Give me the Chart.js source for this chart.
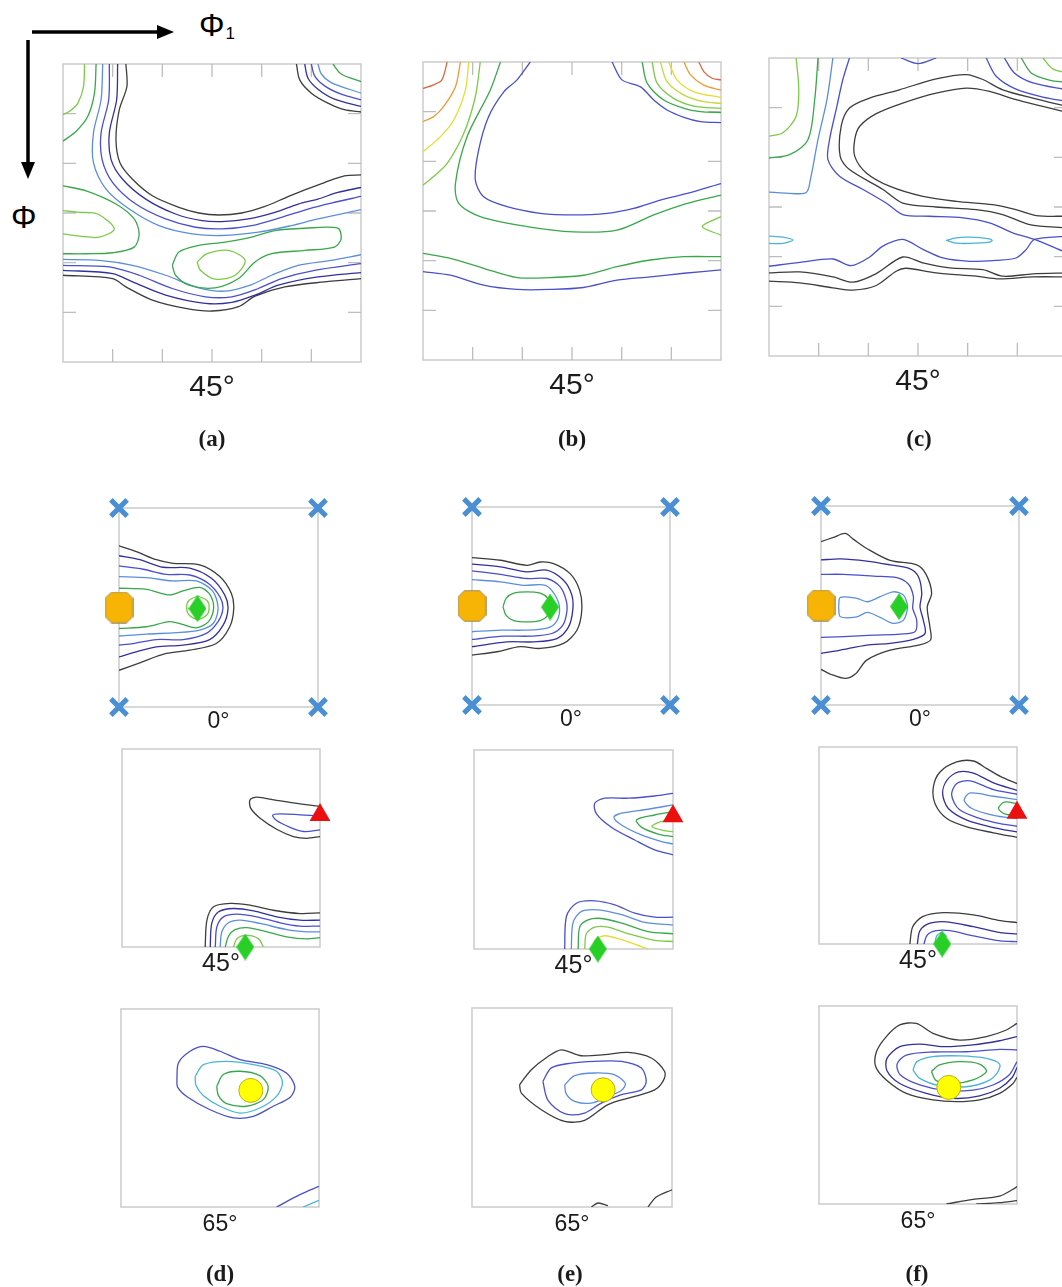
<!DOCTYPE html>
<html lang="en">
<head>
<meta charset="UTF-8">
<title>ODF sections</title>
<script src="https://cdn.jsdelivr.net/npm/chart.js"></script>
<style>
  html, body { margin: 0; padding: 0; background: #fff; }
  body { width: 1062px; height: 1287px; position: relative; overflow: hidden;
         font-family: "Liberation Sans", Arial, sans-serif; color: #1b1b1b; }
  canvas.sec { position: absolute; }
  .lbl { position: absolute; transform: translate(-50%, -50%); white-space: nowrap; line-height: 1; color: #1b1b1b; }
  .tag { font-family: "Liberation Serif", "Times New Roman", serif; font-weight: bold; font-size: 23px; }
  .phi { position: absolute; font-size: 32px; line-height: 32px; color: #000; }
</style>
</head>
<body>
<svg width="200" height="200" style="position:absolute;left:0;top:0">
  <line x1="32" y1="32" x2="160" y2="32" stroke="#000" stroke-width="3.5"/>
  <polygon points="157,25 174,32 157,39" fill="#000"/>
  <line x1="28" y1="40" x2="28" y2="165" stroke="#000" stroke-width="3.5"/>
  <polygon points="21,162 28,179 35,162" fill="#000"/>
</svg>
<div class="phi" style="left:199px;top:9px">Φ<span style="font-size:17px;position:relative;top:3px;margin-left:1px">1</span></div>
<div class="phi" style="left:11px;top:201px">Φ</div>

<script>
// contour colours, lowest level first
const C = {
  k: '#3d3d3d', db: '#33309c', b: '#4a4fcc', lb: '#5b8fdc', c: '#4ab4d8',
  g: '#38a84a', lg: '#7cca48', yg: '#c4d83c', y: '#e6dc32', o: '#ee9a38', r: '#d5683e'
};

const phiTicks = [15, 30, 45, 60, 75];
const topAxisLabel = '45°';
const phi2Labels = ['0°', '45°', '65°'];
const panelTags = ['(a)', '(b)', '(c)', '(d)', '(e)', '(f)'];

// ideal orientations (phi1, PHI)
const cubePts = [[0, 0], [90, 0], [0, 90], [90, 90]];
const gossPts = [[0, 45]];
const brassPts0 = [[35.5, 45.5]];
const brassPts45 = [[56, 90]];
const copperPts = [[90, 30]];
const sPts = [[59, 37]];

// iso-intensity lines: [level, x0,y0, x1,y1, ...], trailing 1 = closed loop
const secA = [
  ['k',  [19,0, 19.3,6.8, 17,13.8, 16,22.8, 17.2,29.8, 21,34.8, 27,39.8, 35,43.3, 41,45, 47,45.6, 54,45, 61,43, 67,40.5, 73,38, 79,35.8, 85,33.8, 90,33.5]],
  ['db', [16.5,0, 16.2,10.8, 14,20.8, 14.5,28.8, 18,34.8, 25,40.8, 34,45.3, 42,47.3, 48,47.6, 56,46.8, 64,44.8, 71,42.3, 77,40.8, 83,38.8, 90,37.3]],
  ['b',  [14,0, 13.8,10.8, 11.5,20.8, 11.8,28.8, 15,35.8, 22,42.3, 31,46.8, 40,49.3, 48,49.8, 57,48.8, 66,46.3, 74,43.8, 81,42, 90,40]],
  ['lb', [12,0, 11.5,10.8, 9.2,20.8, 9.2,29.8, 13,37.8, 20,43.8, 29,48.8, 39,51.3, 48,51.8, 59,50.8, 69,48.8, 77,46.8, 90,44]],
  ['lg', [6.5,0, 6.2,6.8, 4.5,11.8, 2,14.3, 0,15.3]],
  ['g',  [10,0, 9.5,8.8, 7.5,15.8, 4,20.3, 0,23.3]],
  ['lg', [0,44.3, 5,44.8, 10.5,45.3, 15.5,49.8, 11,52.3, 5,52, 0,51.3]],
  ['g',  [0,36.8, 7,38.3, 16,42.3, 21.5,46.8, 23,51.3, 21.5,55.3, 15,57, 7,57.3, 0,57.3]],
  ['g',  [33,60.8, 35,56.8, 41,54.8, 49,53.8, 57,52.3, 64,50.3, 73,49.6, 83,49.6, 84,52.8, 82,55.3, 73,56.3, 63,57.3, 58,59.8, 53,64.8, 46,67.6, 38,66.8, 34,63.8], 1],
  ['lg', [40.5,59.8, 43.5,57.3, 50,56.3, 55,59.3, 52,63.8, 46,65, 41.5,62.3], 1],
  ['lb', [0,59, 11,59.3, 21,60.8, 31,63.8, 41,67.6, 49,68.6, 57,66.6, 63,63.8, 71,60.8, 81,59.3, 90,57.6]],
  ['b',  [0,60.8, 14,61.3, 23,63.8, 33,67.8, 43,70.3, 51,70.3, 59,67.8, 66,64.8, 76,62.3, 90,60.3]],
  ['db', [0,62.3, 15,63.3, 21,65.8, 31,69.8, 43,72.3, 51,72, 58,69.8, 65,66.8, 77,64.3, 90,63]],
  ['k',  [0,63.8, 15,64.8, 19,67.3, 27,71.3, 37,73.8, 45,74.6, 53,73.3, 58,70.1, 67,67.3, 79,65.8, 90,64.8]],
  ['k',  [70.5,0, 71.5,4.8, 75,8.8, 80,11.8, 85,13.8, 90,14.5]],
  ['db', [73,0, 74,4.3, 77,7.6, 82,10.6, 90,12.8]],
  ['b',  [75,0, 76,3.6, 79,6.6, 84,9.1, 90,10.8]],
  ['lb', [77,0, 78,3, 81,5.6, 90,8.8]],
  ['g',  [81.5,0, 84,3, 90,5.3]]
];

const secB = [
  ['r',  [7.3,0, 5.7,5.4, 3.2,6.9, 0,8]],
  ['o',  [11.3,0, 9.8,7.5, 6.2,13.5, 3.2,16.5, 0,18]],
  ['y',  [13.8,0, 12.8,8.5, 9.3,17.5, 5.2,22.6, 0,27.1]],
  ['lg', [17.3,0, 15.8,10.5, 12.3,21.6, 7.3,30.6, 3.2,34.6, 0,37.2]],
  ['g',  [23.4,0, 20.3,8.5, 13.3,22.6, 9.8,36.7, 10.8,42.7, 17.3,46.7, 31.4,49.7, 45.5,51.3, 58.6,50.8, 69.7,46.2, 79.8,42.7, 90,40.2]],
  ['b',  [32.4,0, 28.4,5.4, 24.4,9, 19.8,16.5, 16.8,26.6, 15.8,35.6, 18.3,40.7, 25.4,43.7, 35.4,45.7, 45.5,46.2, 55.6,45.7, 63.6,44.2, 71.7,41.7, 79.8,39.7, 90,36.7]],
  ['b',  [57.1,0, 60.1,5.4, 65.7,7.5, 69.7,11.5, 73.7,14.5, 78.8,16.7, 83.8,18, 90,18.3]],
  ['g',  [66.2,0, 67.7,6.4, 72.7,11.5, 78.8,14, 83.8,15, 90,15.3]],
  ['lg', [69.2,0, 70.7,6.4, 75.7,11, 81.8,13.3, 90,14]],
  ['yg', [71.7,0, 73.7,5.9, 78.8,10, 84.8,12, 90,12.5]],
  ['y',  [74.2,0, 76.7,5.4, 81.8,9, 90,10.7]],
  ['o',  [78.8,0, 80.8,3.9, 84.8,7, 90,8.5]],
  ['r',  [83.3,0, 84.8,2.9, 87.3,4.9, 90,5.4]],
  ['lg', [90,46.7, 84.3,49.7, 90,52.3]],
  ['g',  [0,57.8, 8.3,59.3, 18.3,62.3, 28.4,65.1, 38.5,65.1, 48.5,64.4, 58.6,61.8, 68.7,59.8, 78.8,58.8, 90,58.8]],
  ['b',  [0,63.3, 8.3,64.4, 18.3,67.4, 28.4,68.7, 38.5,68.7, 48.5,68.1, 58.6,65.9, 68.7,64.9, 78.8,63.8, 90,62.8]]
];

const secC = [
  ['lg', [8.2,0, 9,9.6, 8.2,17.6, 4.2,22.6, 0,23.6]],
  ['g',  [14.8,0, 13.8,12.6, 11.8,24.6, 6.2,29.2, 0,30.2]],
  ['lb', [19.3,0, 17.5,12.6, 14.8,24.6, 12.5,36.7, 11.1,40.7, 0,40.5]],
  ['b',  [24.3,0, 22.3,6.5, 20.5,14.6, 18.3,24.6, 17.8,30.7, 21.3,35.7, 28.4,39.7, 35.4,43.8, 40.4,47.3, 48.5,47.8, 58.6,48.3, 66.6,49.8, 73.6,52.8, 80.2,54.8, 90,58.9]],
  ['k',  [90,16.4, 82.7,14.6, 74.6,12.6, 66.6,10.1, 59.6,9.1, 50.5,10.6, 40.4,13.6, 32.4,16.8, 27.4,20.6, 25.9,24.6, 25.9,29.7, 29.4,34.7, 36.4,38.7, 46.5,41.8, 56.5,43.3, 67.6,44.3, 74.6,45.8, 80.7,47.6, 90,47.8]],
  ['k',  [90,14.6, 79.7,12.1, 70.6,9.6, 64.6,6.5, 59.6,5, 50.5,6.3, 39.4,9.6, 30.4,12.1, 24.3,15.1, 21.8,20.6, 21.5,29.7, 24.3,33.7, 34.4,39.7, 40.4,43.8, 50.5,45, 62.6,45.8, 70.6,47.3, 78.7,50.3, 90,51.3]],
  ['b',  [65.6,0, 68.6,5.5, 74.6,9.4, 82.7,11.8, 90,13.1]],
  ['b',  [71.1,0, 74.1,4.5, 79.7,7.5, 90,9.6]],
  ['g',  [76.2,0, 79.2,4.5, 84.7,6.7, 90,7.4]],
  ['lg', [82.7,0, 85.7,3.3, 90,4.5]],
  ['b',  [39.9,0, 45,1.7, 50.5,0]],
  ['c',  [0,53.8, 4.2,54.1, 7.2,55, 4.2,56, 0,56]],
  ['c',  [53.5,55.1, 56.5,54.3, 60.5,54.1, 66.6,54.6, 67.4,55.1, 66.6,55.6, 60.5,56, 56.5,55.9], 1],
  ['b',  [0,62.9, 9.3,61.7, 19.3,60.7, 24.8,62.7, 30.4,60.1, 34.4,56.8, 40.4,54.8, 46.5,57.8, 52.5,60.4, 60.6,61.4, 68.6,61.1, 74.6,60.4, 77.7,57.8, 80.2,54.8, 90,53.8]],
  ['k',  [0,64.9, 9.3,64.6, 19.3,66.1, 25.4,67.7, 32.4,65.1, 40.4,60.1, 46.5,61.9, 54.5,63.4, 64.6,63.9, 70.6,65.9, 79.7,65.2, 90,64.9]],
  ['k',  [0,67.4, 9.3,67.9, 19.3,69.4, 25.4,70.1, 32.4,68.7, 38.4,64.4, 41.4,63.5, 50.5,64.9, 62.6,65.9, 69.6,66.7, 79.7,66.1, 90,66.1]]
];

// phi2 = 0
const d0 = [
  ['k',  [0,17.1, 7.8,19.7, 16.9,23.4, 24.4,25, 36.5,25.7, 45.6,31, 50.8,38.6, 51.9,45.4, 50.1,53.7, 44,61.3, 32,64.3, 21.4,65.8, 9.4,70, 0,73.4]],
  ['db', [0,21.6, 9.4,23.4, 19.9,26.8, 32,27.2, 41.8,31.8, 47.8,39.3, 49.3,45.4, 47.1,53, 41,59.5, 29,62, 16.9,62.8, 7.8,65.1, 0,67.3]],
  ['b',  [0,26.2, 10.9,27.7, 21.4,30, 32,30.3, 40.3,34, 45.6,40.1, 47,45.4, 44.8,51.4, 39.5,56.7, 29,59.5, 16.9,59.5, 6.3,61.3, 0,62]],
  ['lb', [0,31, 12.4,31.5, 24.4,33, 35,33, 42.3,37.5, 44.8,45, 42.8,52, 36.5,55.2, 25.9,56.4, 12.4,57, 0,57.9]],
  ['g',  [0,36.3, 12.4,36.8, 22.9,39.3, 29,37.5, 36.5,35.9, 41,39, 42.8,45.4, 40.5,51.4, 35,54.2, 28.2,52.5, 22.9,51.4, 12.4,53.7, 0,54.5]],
  ['lg', [35.7,39.8, 39.8,41.8, 40.8,45, 39.8,48.3, 35.7,50.4, 31.6,48.3, 30.6,45, 31.6,41.8], 1]
];
const e0 = [
  ['k',  [0,23, 12.9,24.2, 25,26.5, 31,25, 37.1,25.7, 44.6,30.3, 48.9,37.8, 49.9,46.9, 47.7,56, 41.6,62, 31,64.3, 21.9,63.5, 11.3,65.8, 0,67.3]],
  ['db', [0,26, 12.9,27.2, 25,29.5, 34,28.7, 41.6,33.3, 45.4,40.1, 45.8,46.9, 43.9,54.5, 38.6,59.8, 28,61.3, 15.9,61.3, 0,63.5]],
  ['b',  [0,29, 12.9,30.6, 25,32.5, 34,32.5, 40.1,36.3, 42.8,42.4, 43.1,47.7, 41.3,53.7, 36.3,57.5, 26.5,58.7, 14.4,58.7, 0,60.2]],
  ['lb', [0,33, 12.9,34, 23.4,35.6, 33.3,35.6, 37.8,40.1, 39.8,46.1, 38.3,52.2, 33.7,55.2, 23.4,56, 12.9,56, 0,56.7]],
  ['g',  [14.1,45.4, 15.5,41.5, 19,39.2, 25,38.6, 31,39.2, 34.5,41.5, 35.9,45.4, 34.5,49.3, 31,51.6, 25,52.2, 19,51.6, 15.5,49.3], 1]
];
const f0 = [
  ['k',  [0,16.1, 5.7,14.2, 11,12.4, 14.8,15.1, 20.8,19.2, 31.4,24.6, 43.5,26.6, 47.7,30.8, 50.3,39.5, 48.3,45.6, 49.5,54.6, 49.8,60.6, 44.3,62.9, 31.4,65.2, 20.8,69.7, 15.6,76, 11,78, 4.2,76, 0,73.9]],
  ['db', [0,24.4, 8.8,23.9, 20.8,24.9, 31.4,26.6, 40.5,28.4, 44.3,32, 45.8,39.5, 45,45.6, 46.5,51.6, 47.3,57.6, 42,60.3, 31.4,62.1, 20.8,62.9, 8.8,65.2, 0,66.7]],
  ['b',  [0,30.9, 10.3,30.9, 23.9,31.7, 34.4,32.4, 39.7,35.3, 42,41, 41.7,46.3, 43.5,51.6, 42.7,56.9, 36,57.9, 23.9,58.4, 10.3,59.1, 0,59.4]],
  ['lb', [8,45.6, 8.8,41.3, 16.3,41.8, 21.1,43.3, 26.9,41, 32.9,38.8, 37.5,40.3, 39.3,45.6, 37.5,51.6, 32.9,53.1, 26.9,50.4, 21.1,48.1, 16.3,50.1, 8.8,50.1], 1]
];

// phi2 = 45
const d45 = [
  ['k',  [90,26.1, 80.9,24.9, 70.3,23.4, 61.3,21.9, 58.2,23.1, 58.5,26.9, 62.8,31.5, 70.3,36.5, 77.9,39.8, 84,40.6, 90,39.8]],
  ['b',  [90,30.4, 80.9,29.9, 71.9,29.5, 68.5,30.1, 70.3,32.5, 76.4,35.6, 82.5,37.5, 90,36.8]],
  ['k',  [37.8,90, 38.6,77.8, 41.6,71.7, 49.2,70.2, 58.2,71, 68.8,73.3, 80.9,74.8, 90,74.5]],
  ['db', [40.1,90, 40.8,79.3, 43.9,74, 50.7,72.5, 59.8,73.6, 70.3,76.3, 80.9,77.8, 90,77.8]],
  ['b',  [42.4,90, 43.1,80.9, 46.1,76.3, 52.2,75.1, 61.3,76.3, 71.9,79, 80.9,80.5, 90,80.5]],
  ['lb', [44.6,90, 45.4,83.1, 48.4,79, 53.7,77.8, 62.8,79.3, 74.9,82.1, 84,83.1, 90,83.1]],
  ['g',  [46.9,90, 48.4,85.1, 51.4,82.1, 56.7,81.2, 64.3,82.7, 74.9,85.4, 84,86.3, 90,85.7]],
  ['lg', [50.7,90, 52.2,86.2, 56.7,84.7, 62,86.2, 64.3,90]]
];
const e45 = [
  ['b',  [90,19.6, 81.7,20.8, 69.7,21.8, 59.1,21.8, 54.6,24.1, 55.4,28.9, 62.1,34.9, 72.7,40.7, 81.7,45.2, 90,47.4]],
  ['lb', [90,24.8, 78.7,26.8, 66.7,28.6, 63.3,30.4, 66.7,33.9, 75.7,38.4, 84.8,41.4, 90,42.5]],
  ['g',  [90,27.9, 81.7,29.4, 73.5,31.6, 75.7,34.9, 83.3,38, 90,39.2]],
  ['lg', [90,31.3, 83.3,32.8, 80.5,34.6, 85.5,36.4, 90,36.9]],
  ['b',  [41,90, 41.8,75.3, 46.3,69.3, 54.6,68.2, 63.7,70, 72.7,73.8, 81.7,75.6, 90,75.6]],
  ['lb', [44,90, 44.8,78, 48.6,73, 56.1,72.3, 66.7,74.5, 77.2,78, 90,79.2]],
  ['g',  [47.1,90, 47.8,80.1, 51.6,76.8, 57.6,76.2, 66.7,78.3, 78.7,82.1, 90,83.1]],
  ['lg', [50.1,90, 50.8,83.1, 54.6,80.1, 60.6,80.1, 69.7,83.1, 81.7,86.1, 90,86.6]],
  ['y',  [53.4,90, 54.6,86.1, 59.1,84, 66.7,85.8, 75.7,88.9, 78.7,90]]
];
const f45 = [
  ['k',  [90,16.7, 82.4,13.4, 76.3,9.9, 70.2,6.4, 62.6,6.8, 55,11.4, 52,18.2, 52.7,25.8, 58.1,32.7, 67.2,36.5, 79.3,39.2, 90,41.3]],
  ['db', [90,19.8, 79.3,16.4, 70.2,11.9, 63.4,11.4, 58.1,15.2, 56.2,21.3, 58.8,28.1, 67.2,33.4, 79.3,36.8, 90,38.8]],
  ['b',  [90,21.6, 79.3,19.5, 68.7,15.5, 62.6,16.7, 60.3,22, 63.8,28.6, 73.3,32.7, 82.4,35, 90,36.2]],
  ['lb', [90,24, 79.3,22.5, 68.7,21, 66,24.3, 69.5,28.1, 79.3,31.2, 90,32.7]],
  ['g',  [90,25.8, 84.2,25.2, 81.6,28.1, 84.7,30.7, 90,31.2]],
  ['k',  [41.3,90, 42.6,82.1, 47.1,77.5, 56.5,75.7, 70.2,76.7, 82.4,79.3, 90,80.2]],
  ['db', [44.7,90, 45.9,83.9, 50.5,80.5, 58.1,79.9, 70.2,82.1, 82.4,84.8, 90,85.4]],
  ['b',  [47.7,90, 49.2,85.9, 53.2,83.9, 59.6,83.9, 70.2,86.3, 82.4,88.6, 90,88.9]],
  ['c',  [52.7,90, 53.5,86.3, 55.8,84.8, 58.1,86.6]]
];

// phi2 = 65
const d65 = [
  ['b',  [25.4,32.1, 26.1,24.5, 31.4,19.2, 37.5,17, 45,19.2, 54.1,23, 66.2,25.3, 75.2,29.1, 79,35.2, 77,40, 69.2,44.2, 60.1,48.8, 51.1,49.5, 40.5,45.8, 30.2,40, 25.7,35.5], 1],
  ['c',  [33.7,30.6, 37.5,25.3, 48,23.8, 60.1,25.3, 70.7,28.3, 73.4,33.6, 70.7,39.7, 63.1,45, 54.1,47.3, 45,44.2, 37.5,39.4, 34.1,34.8], 1],
  ['g',  [43.5,35.2, 46.5,29.8, 54.1,28.3, 63.1,30.3, 66.9,35.2, 64.7,41.2, 57.1,44.2, 48,43, 44.3,39.4], 1],
  ['b',  [70.7,90, 81.3,84.4, 90,80.6]],
  ['c',  [82.8,90, 90,87]]
];
const e65 = [
  ['k',  [21.4,34.7, 26.7,27.9, 34.2,21.9, 40.2,18.9, 49.2,21.6, 59.7,21.1, 70.2,20.1, 80.7,22.6, 86.7,28.7, 85.9,33.2, 82.2,37, 73.2,40, 61.2,43.7, 50.7,50.8, 41.7,51.3, 31.2,46, 22.2,38.5], 1],
  ['b',  [31.9,33.2, 35.7,27.1, 44.7,24.9, 55.2,24.1, 67.2,24.1, 76.2,27.1, 78.4,33.2, 76.2,37, 67.2,39.2, 58.2,43, 50.7,47.5, 41.7,47.8, 34.2,41.8], 1],
  ['lb', [41.7,34.7, 46.2,30.6, 55.2,29.4, 64.2,30.2, 69,34.2, 67.2,37.3, 61.2,40, 53.7,43, 46.2,42.2, 42.4,38.8], 1],
  ['k',  [53.7,90, 56.7,88.2, 61.2,89.4]],
  ['k',  [79.2,90, 82.9,85.5, 90,82.2]]
];
const f65 = [
  ['k',  [90,7.9, 85.2,10.9, 76.1,13.9, 63.9,15.5, 51.8,12.4, 44.2,7.9, 36.7,8.6, 30.6,13.9, 26.1,20.8, 25.8,27.6, 30.6,33.6, 39.7,39.7, 51.8,42.7, 62.4,43.5, 73,42.7, 82.1,39.7, 88.2,35.2, 90,32.4]],
  ['db', [90,13.9, 82.1,15.8, 70,17.7, 56.4,18.5, 45.8,17.3, 36.7,18.5, 30.9,23.8, 30.9,29.4, 36.7,35.2, 48.8,39.7, 60.9,42, 73,40.9, 82.1,37.4, 87.9,32.4, 90,27.9]],
  ['b',  [90,20, 82.1,19.7, 67,20.8, 51.8,20.9, 39.7,22.3, 35.5,26.4, 37,31.4, 45.8,35.9, 57.9,38.5, 70,38.2, 79.1,35.9, 86.4,31.4, 90,25.3]],
  ['c',  [42.7,29.1, 44.5,25.3, 51.8,23, 63.9,22.7, 76.1,23.8, 82.1,26.4, 80.9,30.6, 76.1,34.4, 67,36.7, 54.8,36.2, 45.8,32.9], 1],
  ['g',  [51.1,29.8, 54.8,26.8, 63.9,25.3, 73,26.4, 76.1,29.8, 70,33.6, 60.9,35.2, 53.3,33.9], 1],
  ['k',  [57.9,90, 70,87.9, 82.1,86.4, 88.2,83.3, 90,82.1]],
  ['k',  [71.5,90, 82.1,89.4, 90,88.5]]
];

// custom point images: elongated diamond (Brass), cut-corner block (Goss)
function diamondImage(w, h, color) {
  const c = document.createElement('canvas');
  c.width = w; c.height = h;
  const g = c.getContext('2d');
  g.fillStyle = color;
  g.beginPath();
  g.moveTo(w / 2, 0); g.lineTo(w, h / 2); g.lineTo(w / 2, h); g.lineTo(0, h / 2);
  g.closePath(); g.fill();
  return c;
}
function octagonImage(w, h, cut, fill, stroke) {
  const c = document.createElement('canvas');
  c.width = w; c.height = h;
  const g = c.getContext('2d');
  const a = 0.75, r = w - 0.75, b = h - 0.75;
  g.beginPath();
  g.moveTo(a + cut, a); g.lineTo(r - cut, a); g.lineTo(r, a + cut); g.lineTo(r, b - cut);
  g.lineTo(r - cut, b); g.lineTo(a + cut, b); g.lineTo(a, b - cut); g.lineTo(a, a + cut);
  g.closePath();
  g.fillStyle = fill; g.fill();
  g.strokeStyle = stroke; g.lineWidth = 1; g.stroke();
  return c;
}
const diamond = diamondImage(18, 27, '#27cf27');
const octagon = octagonImage(29, 32, 6, '#f8b404', '#9c8a5c');

const markStyle = {
  cube:   { pointStyle: 'crossRot', pointRadius: 11.5, borderWidth: 5, borderColor: '#4a8fd4', backgroundColor: '#4a8fd4' },
  goss:   { pointStyle: octagon, pointRadius: 15, borderWidth: 0 },
  brass:  { pointStyle: diamond, pointRadius: 12, borderWidth: 0 },
  copper: { pointStyle: 'triangle', pointRadius: 12, borderWidth: 0, borderColor: '#ec0f0f', backgroundColor: '#ec0f0f' },
  s:      { pointStyle: 'circle', pointRadius: 12, borderWidth: 1, borderColor: '#b9ad1e', backgroundColor: '#ffff00' }
};

// frame rect = [left, top, width, height] of each plot area on the page
const panels = [
  { frame: [63, 64, 298, 298],  lines: secA, ticks: true, axis: topAxisLabel, size: 30, dy: 24, marks: [] },
  { frame: [423, 62, 298, 298], lines: secB, ticks: true, axis: topAxisLabel, size: 30, dy: 24, marks: [] },
  { frame: [769, 58, 298, 298], lines: secC, ticks: true, axis: topAxisLabel, size: 30, dy: 24, marks: [] },
  { frame: [119, 508, 199, 199], lines: d0, axis: phi2Labels[0], size: 23, dy: 13, marks: [['cube', cubePts], ['goss', gossPts], ['brass', brassPts0]] },
  { frame: [472, 507, 198, 198], lines: e0, axis: phi2Labels[0], size: 23, dy: 13, marks: [['cube', cubePts], ['goss', gossPts], ['brass', brassPts0]] },
  { frame: [821, 506, 198, 199], lines: f0, axis: phi2Labels[0], size: 23, dy: 13, marks: [['cube', cubePts], ['goss', gossPts], ['brass', brassPts0]] },
  { frame: [122, 749, 198, 198], lines: d45, axis: phi2Labels[1], size: 25, dy: 15, marks: [['copper', copperPts], ['brass', brassPts45]] },
  { frame: [474, 750, 199, 199], lines: e45, axis: phi2Labels[1], size: 25, dy: 15, marks: [['copper', copperPts], ['brass', brassPts45]] },
  { frame: [819, 747, 198, 197], lines: f45, axis: phi2Labels[1], size: 25, dy: 15, marks: [['copper', copperPts], ['brass', brassPts45]] },
  { frame: [121, 1009, 198, 198], lines: d65, axis: phi2Labels[2], size: 23, dy: 16, marks: [['s', sPts]] },
  { frame: [472, 1008, 200, 199], lines: e65, axis: phi2Labels[2], size: 23, dy: 16, marks: [['s', sPts]] },
  { frame: [819, 1006, 198, 198], lines: f65, axis: phi2Labels[2], size: 23, dy: 16, marks: [['s', sPts]] }
];
const tagPos = [[212, 438], [572, 438], [919, 438], [220, 1273], [570, 1273], [917, 1273]];

// light grey box with optional inward tick marks
const framePlugin = {
  id: 'frame',
  beforeDatasetsDraw(chart, args, opts) {
    const { ctx, chartArea: a, scales } = chart;
    ctx.save();
    ctx.strokeStyle = '#cbcbcb';
    ctx.lineWidth = 1.5;
    ctx.strokeRect(a.left, a.top, a.right - a.left, a.bottom - a.top);
    if (opts.ticks) {
      const L = 13;
      ctx.strokeStyle = '#bdbdbd';
      ctx.lineWidth = 1.3;
      ctx.beginPath();
      opts.ticks.forEach(v => {
        const x = scales.x.getPixelForValue(v);
        const y = scales.y.getPixelForValue(v);
        ctx.moveTo(x, a.bottom); ctx.lineTo(x, a.bottom - L);
        ctx.moveTo(x, a.top); ctx.lineTo(x, a.top + L);
        ctx.moveTo(a.left, y); ctx.lineTo(a.left + L, y);
        ctx.moveTo(a.right, y); ctx.lineTo(a.right - L, y);
      });
      ctx.stroke();
    }
    ctx.restore();
  }
};

function toPoints(flat, closed) {
  const pts = [];
  for (let i = 0; i < flat.length; i += 2) pts.push({ x: flat[i], y: flat[i + 1] });
  if (closed) pts.push({ x: flat[0], y: flat[1] });
  return pts;
}

function addLabel(text, cx, cy, cls, size) {
  const d = document.createElement('div');
  d.className = 'lbl ' + (cls || '');
  d.style.left = cx + 'px';
  d.style.top = cy + 'px';
  if (size) d.style.fontSize = size + 'px';
  d.textContent = text;
  document.body.appendChild(d);
}

const PAD = 22;
panels.forEach(p => {
  const [left, top, w, h] = p.frame;
  const cv = document.createElement('canvas');
  cv.className = 'sec';
  cv.width = w + 2 * PAD;
  cv.height = h + 2 * PAD;
  cv.style.left = (left - PAD) + 'px';
  cv.style.top = (top - PAD) + 'px';
  document.body.appendChild(cv);

  const datasets = [];
  p.marks.forEach(([kind, pts]) => {
    datasets.push(Object.assign({
      data: pts.map(([x, y]) => ({ x, y })),
      showLine: false, clip: false, order: 0
    }, markStyle[kind]));
  });
  p.lines.forEach(([lvl, flat, closed]) => {
    datasets.push({
      data: toPoints(flat, closed),
      showLine: true, borderColor: C[lvl], borderWidth: 1.3,
      pointRadius: 0, tension: 0.3, order: 1
    });
  });

  new Chart(cv, {
    type: 'scatter',
    data: { datasets },
    options: {
      responsive: false,
      animation: false,
      events: [],
      layout: { padding: PAD },
      scales: {
        x: { type: 'linear', min: 0, max: 90, display: false },
        y: { type: 'linear', min: 0, max: 90, reverse: true, display: false }
      },
      plugins: {
        legend: { display: false },
        tooltip: { enabled: false },
        frame: { ticks: p.ticks ? phiTicks : null }
      }
    },
    plugins: [framePlugin]
  });

  addLabel(p.axis, left + w / 2, top + h + p.dy, '', p.size);
});

panelTags.forEach((t, i) => addLabel(t, tagPos[i][0], tagPos[i][1], 'tag'));
</script>
</body>
</html>
